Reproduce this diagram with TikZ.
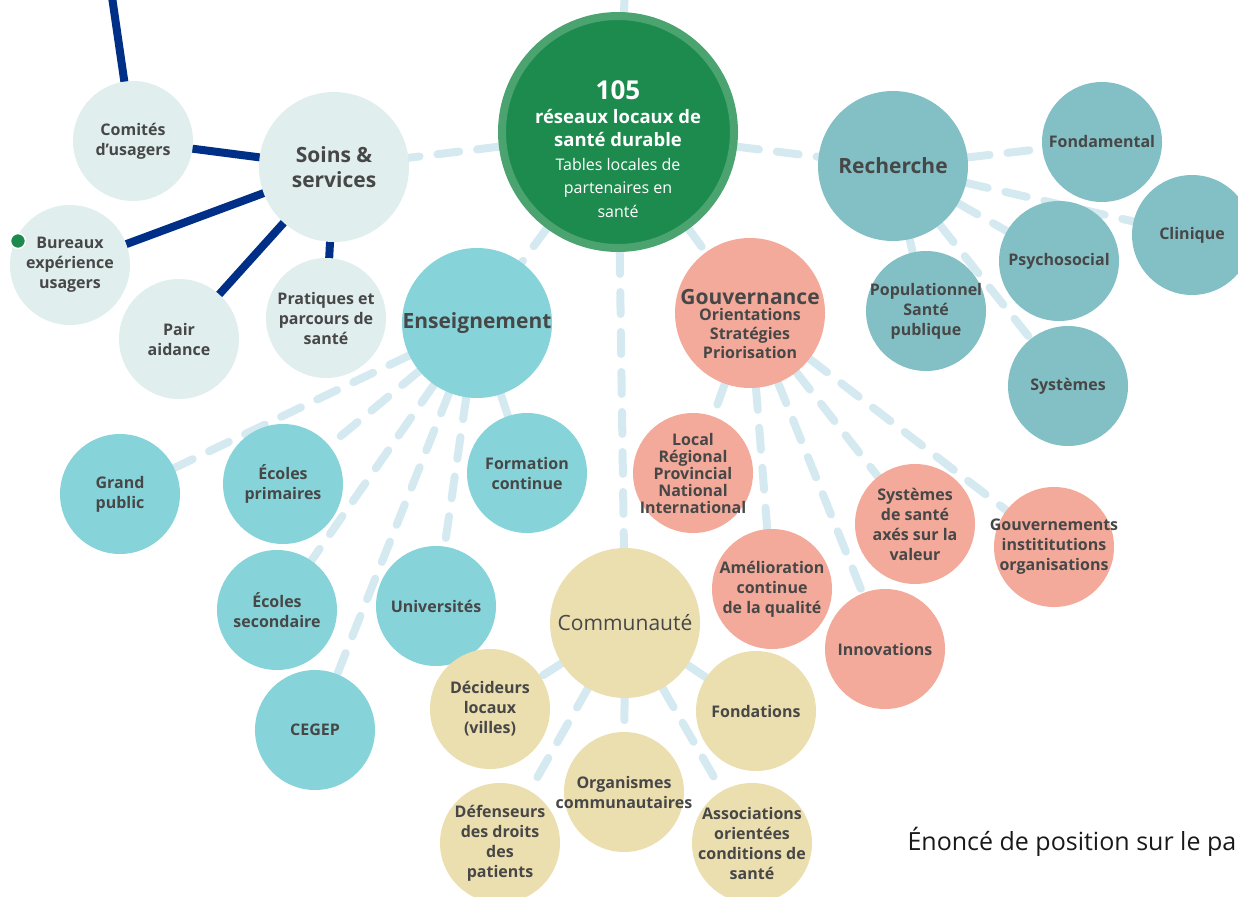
\documentclass[tikz,border=0pt]{standalone}
\usepackage{fontspec}
\setmainfont{Open Sans}
\usetikzlibrary{backgrounds}

\definecolor{vertfonce}{HTML}{1E8B4E}
\definecolor{vertclair}{HTML}{4BA470}
\definecolor{soinsfond}{HTML}{E0EEEE}
\definecolor{enseigfond}{HTML}{86D4D9}
\definecolor{recherfond}{HTML}{83C0C5}
\definecolor{gouvfond}{HTML}{F3AA9A}
\definecolor{commufond}{HTML}{EBDFB0}
\definecolor{lienbleu}{HTML}{D5E9F0}
\definecolor{bleumarine}{HTML}{002F87}
\definecolor{txtgris}{HTML}{474747}

\begin{document}
\begin{tikzpicture}[x=1pt, y=-1pt,
  bulle/.style={circle, inner sep=-40pt, align=center, text=txtgris,
    font=\fontsize{16}{20}\selectfont\bfseries},
  petite/.style={bulle, minimum size=120pt},
  grande/.style={bulle, minimum size=150pt, font=\fontsize{21}{25}\selectfont\bfseries},
  lien/.style={line width=8pt, lienbleu, line cap=round, dash pattern=on 22pt off 18pt},
  trait/.style={line width=8pt, bleumarine, line cap=round}]

\useasboundingbox (0,0) rectangle (1238,896);

% noeud central
\node[circle, minimum size=232pt, fill=vertfonce, draw=vertclair, line width=8pt] (reseaux) at (618,132) {};
\node[text=white, align=center, font=\fontsize{16}{23.5}\selectfont] (reseauxtxt) at (618,149) {%
  {\fontsize{26}{26}\selectfont\bfseries 105}\\
  {\fontsize{18.5}{23}\selectfont\bfseries réseaux locaux de}\\
  {\fontsize{18.5}{23}\selectfont\bfseries santé durable}\\
  Tables locales de\\ partenaires en\\ santé};

% soins et services
\node[grande, fill=soinsfond] (soins) at (334,167) {Soins \&\\ services};
\node[petite, fill=soinsfond] (comites) at (133,141) {Comités\\ d’usagers};
\node[petite, fill=soinsfond] (bureaux) at (70,265) {Bureaux\\ expérience\\ usagers};
\node[petite, fill=soinsfond] (pair) at (179,339) {Pair\\ aidance};
\node[petite, fill=soinsfond] (pratiques) at (326,318) {Pratiques et\\ parcours de\\ santé};
\node[circle, inner sep=0pt, minimum size=15pt, fill=vertfonce, draw=white, line width=1.5pt] (pastille) at (18,241) {};
\coordinate (ciel) at (111,-10);

% enseignement
\node[grande, fill=enseigfond] (enseignement) at (477,323) {Enseignement};
\node[petite, fill=enseigfond] (grandpublic) at (120,494) {Grand\\ public};
\node[petite, fill=enseigfond] (primaires) at (283,484) {Écoles\\ primaires};
\node[petite, fill=enseigfond] (secondaire) at (277,610) {Écoles\\ secondaire};
\node[petite, fill=enseigfond] (cegep) at (315,730) {CEGEP};
\node[petite, fill=enseigfond] (universites) at (436,606) {Universités};
\node[petite, fill=enseigfond] (formation) at (527,473) {Formation\\ continue};

% recherche
\node[grande, fill=recherfond] (recherche) at (893,166) {Recherche};
\node[petite, fill=recherfond] (fondamental) at (1102,142) {Fondamental};
\node[petite, fill=recherfond] (clinique) at (1192,235) {Clinique};
\node[petite, fill=recherfond] (psychosocial) at (1059,261) {Psychosocial};
\node[petite, fill=recherfond] (populationnel) at (926,311) {Populationnel\\ Santé\\ publique};
\node[petite, fill=recherfond] (systemes) at (1068,386) {Systèmes};

% gouvernance
\node[grande, fill=gouvfond] (gouvernance) at (750,313) {};
\node[align=center, text=txtgris, font=\fontsize{16}{19}\selectfont\bfseries] (gouvernancetxt) at (750,324)
  {{\fontsize{21}{21}\selectfont Gouvernance}\\[-3pt] Orientations\\ Stratégies\\ Priorisation};
\node[petite, fill=gouvfond, font=\fontsize{16}{17}\selectfont\bfseries] (local) at (693,473)
  {Local\\ Régional\\ Provincial\\ National\\ International};
\node[petite, fill=gouvfond] (amelioration) at (772,589) {Amélioration\\ continue\\ de la qualité};
\node[petite, fill=gouvfond] (innovations) at (885,649) {Innovations};
\node[petite, fill=gouvfond] (valeur) at (915,524) {Systèmes\\ de santé\\ axés sur la\\ valeur};
\node[petite, fill=gouvfond] (gouvernements) at (1054,547) {Gouvernements\\ instititutions\\ organisations};

% communaute
\node[grande, fill=commufond, font=\fontsize{21}{25}\selectfont] (communaute) at (625,623) {Communauté};
\node[petite, fill=commufond] (decideurs) at (490,709) {Décideurs\\ locaux\\ (villes)};
\node[petite, fill=commufond] (organismes) at (624,792) {Organismes\\ communautaires};
\node[petite, fill=commufond] (defenseurs) at (500,843) {Défenseurs\\ des droits\\ des\\ patients};
\node[petite, fill=commufond] (fondations) at (756,711) {Fondations};
\node[petite, fill=commufond] (associations) at (752,843) {Associations\\ orientées\\ conditions de\\ santé};

\coordinate (haut) at (625,-10);

\node[anchor=base west, text=black!90, font=\fontsize{25}{30}\selectfont] (enonce) at (904,850) {Énoncé de position sur le pa};

\begin{pgfonlayer}{background}
  \draw[trait] (comites) -- (ciel);
  \draw[trait] (comites) -- (soins) (soins) -- (bureaux) (soins) -- (pair) (soins) -- (pratiques);

  \draw[lien] (reseaux) -- (haut);
  \draw[lien] (reseaux) -- (soins) (reseaux) -- (recherche) (reseaux) -- (enseignement)
    (reseaux) -- (gouvernance) (reseaux) -- (communaute);

  \draw[lien] (recherche) -- (fondamental) (recherche) -- (clinique) (recherche) -- (psychosocial)
    (recherche) -- (populationnel) (recherche) -- (systemes);
  \draw[lien] (enseignement) -- (grandpublic) (enseignement) -- (primaires) (enseignement) -- (secondaire)
    (enseignement) -- (cegep) (enseignement) -- (universites) (enseignement) -- (formation);
  \draw[lien] (gouvernance) -- (local) (gouvernance) -- (amelioration) (gouvernance) -- (innovations)
    (gouvernance) -- (valeur) (gouvernance) -- (gouvernements);
  \draw[lien] (communaute) -- (decideurs) (communaute) -- (organismes) (communaute) -- (defenseurs)
    (communaute) -- (fondations) (communaute) -- (associations);
\end{pgfonlayer}

\end{tikzpicture}
\end{document}
